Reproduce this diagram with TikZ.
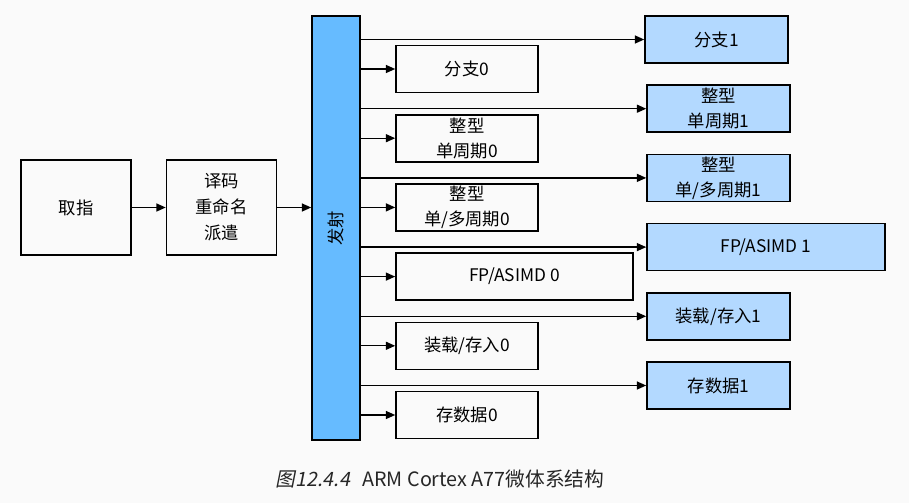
\documentclass[tikz,border=0pt]{standalone}
\usepackage{fontspec}
\setmainfont{Noto Sans CJK SC}
\newfontfamily\capslant{Noto Sans CJK SC}[FakeSlant=0.2]
\usepackage{tikz}
\usetikzlibrary{arrows.meta}
\definecolor{paper}{RGB}{250,250,250}
\definecolor{issueblue}{RGB}{102,187,255}
\definecolor{unitblue}{RGB}{179,217,255}

\begin{document}
\begin{tikzpicture}[x=0.75pt,y=-0.75pt,
	box/.style={draw=black,line width=1.2pt,align=center,inner sep=0pt,
		minimum height=35.25pt,font=\fontsize{13}{18.75}\selectfont},
	unit/.style={box,fill=unitblue},
	arr/.style={-{Triangle[length=7pt,width=6pt]},line width=1pt}
	]
	\fill[paper] (0,0) rectangle (909,503);
	% front end
	\node[box,minimum width=82.5pt,minimum height=71.25pt] (fetch) at (76,207.5) {取指};
	\node[box,minimum width=82.5pt,minimum height=71.25pt,
		font=\fontsize{13}{19.5}\selectfont] (decode) at (221.5,207.5) {译码\\重命名\\派遣};
	\node[box,fill=issueblue,minimum width=36pt,minimum height=318pt] (issue) at (336,228) {};
	\node[rotate=90,font=\fontsize{13}{15}\selectfont] (issuetxt) at (issue.center) {发射};
	\draw[arr] (fetch.east) -- (decode.west);
	\draw[arr] (decode.east) -- (issue.west |- decode.east);
	% pipe 0
	\foreach \i/\xx/\w/\txt in {1/467/106.5pt/{分支0},2/467/106.5pt/{整型\\单周期0},
		3/467/106.5pt/{整型\\单/多周期0},4/514.5/177.75pt/{FP/ASIMD 0},
		5/467/106.5pt/{装载/存入0},6/467/106.5pt/{存数据0}}{
		\node[box,minimum width=\w] (l\i) at (\xx,{69+69.2*(\i-1)}) {\txt};
		\draw[arr] (issue.east |- l\i.west) -- (l\i.west);
	}
	% pipe 1
	\foreach \i/\xx/\w/\txt in {1/716.5/107.25pt/{分支1},2/718.5/107.25pt/{整型\\单周期1},
		3/718.5/107.25pt/{整型\\单/多周期1},4/766/178.5pt/{FP/ASIMD 1},
		5/718.5/107.25pt/{装载/存入1},6/718.5/107.25pt/{存数据1}}{
		\node[unit,minimum width=\w] (r\i) at (\xx,{39.5+69.2*(\i-1)}) {\txt};
		\draw[arr] (issue.east |- r\i.west) -- (r\i.west);
	}
	\node[text=black!85,font=\fontsize{14.8}{17}\selectfont] (caption) at (440,479)
		{{\capslant 图12.4.4}\hspace{0.4em} ARM Cortex A77微体系结构};
\end{tikzpicture}
\end{document}
